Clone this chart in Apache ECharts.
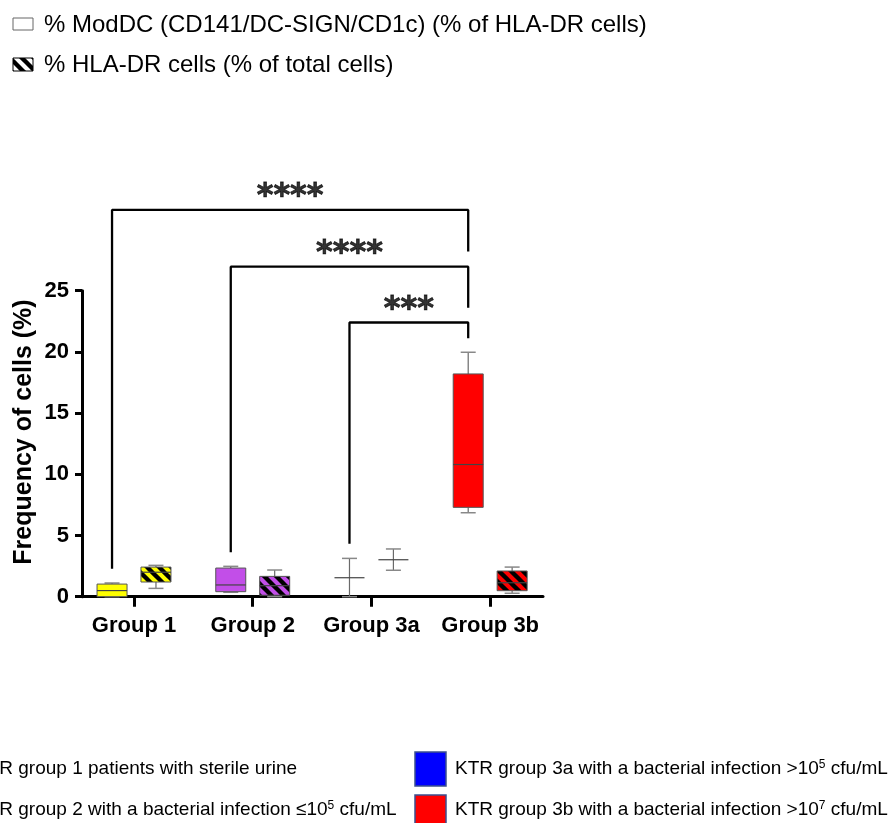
<!DOCTYPE html>
<html>
<head>
<meta charset="utf-8">
<script src="https://cdn.jsdelivr.net/npm/echarts@6/dist/echarts.min.js"></script>
<style>html,body{margin:0;padding:0;background:#fff}#c{width:895px;height:823px}</style>
</head>
<body>
<div id="c"></div>
<script>
// ---- data ----
const categories = ['Group 1', 'Group 2', 'Group 3a', 'Group 3b'];
const groupColors = ['#ffff00', '#c24ee8', '#0000ff', '#ff0000'];
// [min, Q1, median, Q3, max]
const modDC = [
  [0.0, 0.0, 0.5, 1.03, 1.12],
  [0.36, 0.41, 0.96, 2.34, 2.48],
  [0.0, 1.55, 1.55, 1.55, 3.13],
  [6.86, 7.3, 10.8, 18.2, 19.97]
];
const hlaDR = [
  [0.68, 1.2, 2.0, 2.42, 2.56],
  [0.0, 0.12, 0.9, 1.66, 2.18],
  [2.16, 3.02, 3.02, 3.02, 3.9],
  [0.28, 0.49, 1.14, 2.1, 2.42]
];
const yTicks = [0, 5, 10, 15, 20, 25];
// significance brackets: [fromGroup, toGroup, leftBottom, top, rightBottom]
const brackets = [
  [0, 3, 2.37, 31.6, 28.3],
  [1, 3, 3.73, 26.96, 23.7],
  [2, 3, 4.41, 22.4, 21.2]
];
const sigText = ['****', '****', '***'];
const legendTop = ['% ModDC (CD141/DC-SIGN/CD1c) (% of HLA-DR cells)', '% HLA-DR cells (% of total cells)'];

// ---- helpers ----
const OFF = 0.185;
function makeHatch(color) {
  const c = document.createElement('canvas');
  const n = 12;
  c.width = n; c.height = n;
  const g = c.getContext('2d');
  g.fillStyle = color; g.fillRect(0, 0, n, n);
  g.strokeStyle = '#000'; g.lineWidth = 4.4;
  for (const k of [-n, 0, n]) {
    g.beginPath(); g.moveTo(-2 + k, -2); g.lineTo(n + 2 + k, n + 2); g.stroke();
  }
  return { image: c, repeat: 'repeat' };
}

function boxData(arr, side) {
  return arr.map((v, i) => ({ value: [i + side * OFF, v[0], v[1], v[2], v[3], v[4], i] }));
}

function renderBox(hatched) {
  const fills = groupColors.map(c => hatched ? makeHatch(c) : c);
  return function (params, api) {
    const x = api.value(0);
    const P = k => api.coord([x, api.value(k)]);
    const pMin = P(1), pQ1 = P(2), pMed = P(3), pQ3 = P(4), pMax = P(5);
    const cx = pMin[0], hw = 15, cw = 7.5;
    const wStyle = { stroke: '#6a6a6a', lineWidth: 1.2 };
    const ch = [];
    ch.push({ type: 'line', shape: { x1: cx, y1: pQ3[1], x2: cx, y2: pMax[1] }, style: wStyle });
    ch.push({ type: 'line', shape: { x1: cx, y1: pQ1[1], x2: cx, y2: pMin[1] }, style: wStyle });
    ch.push({ type: 'line', shape: { x1: cx - cw, y1: pMax[1], x2: cx + cw, y2: pMax[1] }, style: { stroke: '#888', lineWidth: 1.5 } });
    ch.push({ type: 'line', shape: { x1: cx - cw, y1: pMin[1], x2: cx + cw, y2: pMin[1] }, style: { stroke: '#888', lineWidth: 1.5 } });
    if (pQ1[1] - pQ3[1] > 0.5) {
      ch.push({ type: 'rect', shape: { x: cx - hw, y: pQ3[1], width: 2 * hw, height: pQ1[1] - pQ3[1] },
        style: { fill: fills[api.value(6)], stroke: '#555', lineWidth: 1 } });
    }
    ch.push({ type: 'line', shape: { x1: cx - hw, y1: pMed[1], x2: cx + hw, y2: pMed[1] }, style: { stroke: '#444', lineWidth: 1.2 } });
    return { type: 'group', children: ch };
  };
}

const series = [
  { type: 'custom', name: 'modDC', renderItem: renderBox(false), data: boxData(modDC, -1), clip: false, z: 3 },
  { type: 'custom', name: 'hlaDR', renderItem: renderBox(true), data: boxData(hlaDR, 1), clip: false, z: 3 }
];
brackets.forEach((b, i) => {
  const xl = b[0] - OFF, xr = b[1] - OFF;
  series.push({
    type: 'line', clip: false, symbol: 'none', silent: true, z: 4,
    lineStyle: { color: '#000', width: 2.3, cap: 'square' },
    data: [[xl, b[2]], [xl, b[3]], [xr, b[3]], [xr, b[4]]]
  });
  series.push({
    type: 'scatter', clip: false, symbolSize: 0, silent: true, z: 5,
    data: [{ value: [(xl + xr) / 2, b[3] + 1.05], name: sigText[i] }],
    label: { show: true, position: 'inside', formatter: p => p.name, color: '#000',
      textBorderColor: '#000', textBorderWidth: 0.8,
      fontFamily: 'DejaVu Sans', fontWeight: 'bold', fontSize: 32 }
  });
});

const chart = echarts.init(document.getElementById('c'), null, { renderer: 'canvas' });
const hatchLegend = makeHatch('#ffffff');
const supStyle = { fontSize: 12, fontFamily: 'Liberation Sans, Arial', color: '#000', verticalAlign: 'top', padding: [0, 0, 8, 0] };
chart.setOption({
  animation: false,
  backgroundColor: '#fff',
  grid: { left: 82, right: 352, top: 290.7, bottom: 226.3, outerBoundsMode: 'none' },
  xAxis: {
    type: 'value', min: -0.438, max: 3.445,
    splitLine: { show: false },
    axisLine: { show: true, onZero: false, lineStyle: { color: '#000', width: 3 } },
    axisTick: { show: true, customValues: [0, 1, 2, 3], length: 10, lineStyle: { color: '#000', width: 3 } },
    axisLabel: { customValues: [0, 1, 2, 3], formatter: v => categories[Math.round(v)], margin: 18,
      color: '#000', fontFamily: 'Liberation Sans, Arial', fontWeight: 'bold', fontSize: 22 }
  },
  yAxis: {
    type: 'value', min: 0, max: 25, interval: 5,
    splitLine: { show: false },
    axisLine: { show: true, onZero: false, lineStyle: { color: '#000', width: 3 } },
    axisTick: { show: true, length: 7, lineStyle: { color: '#000', width: 3 } },
    axisLabel: { margin: 13, color: '#000', fontFamily: 'Liberation Sans, Arial', fontWeight: 'bold', fontSize: 22,
      formatter: v => (yTicks.indexOf(v) >= 0 ? String(v) : '') }
  },
  graphic: [
    { type: 'text', x: 24, y: 432, rotation: Math.PI / 2,
      style: { text: 'Frequency of cells (%)', fill: '#000', font: 'bold 25px "Liberation Sans", Arial', align: 'center', verticalAlign: 'middle' } },
    { type: 'rect', shape: { x: 13, y: 18, width: 20, height: 12 }, style: { fill: '#fff', stroke: '#666', lineWidth: 1 } },
    { type: 'text', x: 44, y: 25, style: { text: legendTop[0], fill: '#000', font: '24px "Liberation Sans", Arial', verticalAlign: 'middle' } },
    { type: 'rect', shape: { x: 13, y: 58, width: 20, height: 13 }, style: { fill: hatchLegend, stroke: '#000', lineWidth: 1 } },
    { type: 'text', x: 44, y: 65, style: { text: legendTop[1], fill: '#000', font: '24px "Liberation Sans", Arial', verticalAlign: 'middle' } },
    { type: 'text', x: -25, y: 769, style: { text: 'KTR group 1 patients with sterile urine', fill: '#000', font: '19px "Liberation Sans", Arial', verticalAlign: 'middle' } },
    { type: 'text', x: -25, y: 810, style: { text: 'KTR group 2 with a bacterial infection \u226410{s|5} cfu/mL', fill: '#000', font: '19px "Liberation Sans", Arial', verticalAlign: 'middle', rich: { s: supStyle } } },
    { type: 'rect', shape: { x: 415, y: 752, width: 31, height: 34 }, style: { fill: groupColors[2], stroke: '#3b4f8f', lineWidth: 1.5 } },
    { type: 'rect', shape: { x: 415, y: 795, width: 31, height: 34 }, style: { fill: groupColors[3], stroke: '#3b4f8f', lineWidth: 1.5 } },
    { type: 'text', x: 455, y: 769, style: { text: 'KTR group 3a with a bacterial infection >10{s|5} cfu/mL', fill: '#000', font: '19px "Liberation Sans", Arial', verticalAlign: 'middle', rich: { s: supStyle } } },
    { type: 'text', x: 455, y: 810, style: { text: 'KTR group 3b with a bacterial infection >10{s|7} cfu/mL', fill: '#000', font: '19px "Liberation Sans", Arial', verticalAlign: 'middle', rich: { s: supStyle } } }
  ],
  series: series
});
</script>
</body>
</html>
